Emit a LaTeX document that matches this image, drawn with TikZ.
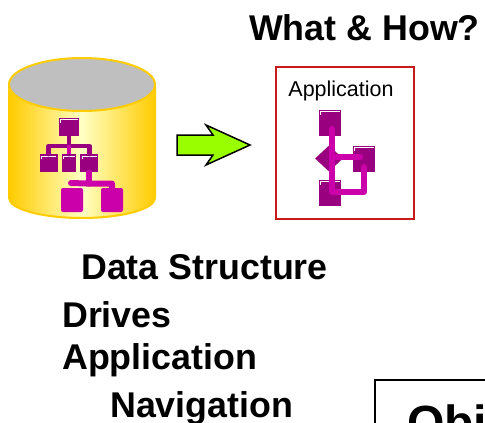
\documentclass[tikz,border=0pt]{standalone}
\usepackage{fontspec}
\setmainfont{Liberation Sans}
\usepackage{xcolor}
\usetikzlibrary{shapes.geometric, positioning}
\definecolor{plum}{HTML}{990080}
\definecolor{magent}{HTML}{CC00AA}
\definecolor{cylgold}{HTML}{FFCC00}
\definecolor{cylpale}{HTML}{FFFFC4}
\definecolor{framered}{HTML}{C81A1A}
\definecolor{arrowgreen}{HTML}{99FF00}
\newcommand{\headfont}[1]{\fontsize{#1}{#1}\selectfont\bfseries}

\begin{document}
\begin{tikzpicture}[
        x=1pt, y=-1pt,
        lit/.style={path picture={\draw[white, line width=0.8pt]
            ([shift={(1.5pt,-5pt)}]path picture bounding box.north west) |- ([shift={(-1.5pt,-1.5pt)}]path picture bounding box.north east);}},
        sqbox/.style={rectangle, fill=plum, inner sep=0pt, minimum width=#1, minimum height=18pt, lit},
        appbox/.style={rectangle, fill=plum, inner sep=0pt, minimum width=22pt, minimum height=26pt, lit},
        leafbox/.style={rectangle, rounded corners=2pt, fill=magent, inner sep=0pt, minimum width=22pt, minimum height=24pt},
        bus/.style={draw=plum, line width=4.5pt, line cap=round, line join=round},
        link/.style={draw=magent, line width=6pt, line cap=round, line join=round},
        head/.style={inner sep=0pt, anchor=base west, font=\headfont{35.8}}
    ]
        \useasboundingbox (0,0) rectangle (485,423);
        \clip (0,0) rectangle (485,423);

        % cylinder
        \path[draw=cylgold, line width=2pt, left color=cylgold, right color=cylgold, middle color=cylpale]
            (9,84) -- (9,198) arc[start angle=180, end angle=360, x radius=73pt, y radius=20pt] -- (155,84) -- cycle;
        \node[ellipse, draw=cylgold, line width=2pt, fill=black!25, inner sep=0pt, minimum width=146pt, minimum height=53pt] (lid) at (82,84.5) {};

        % tree on the cylinder
        \node[sqbox=20pt] (root) at (69,127) {};
        \node[sqbox=14pt, below=18pt of root] (midchild) {};
        \node[sqbox=18pt, left=4pt of midchild] (leftchild) {};
        \node[sqbox=18pt, right=4pt of midchild] (rightchild) {};
        \node[leafbox] (leafa) at (72,200) {};
        \node[leafbox] (leafb) at (112,200) {};
        \coordinate (busa) at (71,183);

        \draw[bus] (leftchild.north) -- ++(0,-8) -| (rightchild.north);
        \draw[bus] (root.south) -- (midchild.north);
        \draw[draw=magent, line width=4.5pt] (root.south) ++(0,9) -- (midchild.north);
        \draw[link] (rightchild.south) -- ++(0,11) coordinate (busb);
        \draw[link] (busa) -- (busb) -| (leafb.north);

        % block arrow
        \draw[fill=arrowgreen, line width=1.5pt, line join=miter]
            (177,135) -- (213,135) -- (206,125) -- (250,145) -- (206,165) -- (213,155) -- (177,155) -- cycle;

        % application frame
        \node[rectangle, draw=framered, line width=1.5pt, inner sep=0pt, minimum width=138pt, minimum height=152pt] (frame) at (345,143) {};
        \node[inner sep=0pt, font=\fontsize{21.5}{21.5}\selectfont] (apptitle) at (341,91) {Application};
        \node[appbox] (appa) at (330,123) {};
        \node[appbox] (appb) at (364,159) {};
        \node[appbox] (appc) at (330,193) {};
        \node[diamond, fill=plum, inner sep=0pt, minimum width=28pt, minimum height=26pt] (appd) at (329,158.5) {};
        \coordinate (corner) at (332,192);

        \draw[link] (332,129) -- (corner) -| (appb.south |- 0,167);
        \draw[link] (332,157) -- (360,157);

        % headings
        \node[head] (question) at (249,40) {What \& How?};
        \node[head] (datastruct) at (81,279) {Data Structure};
        \node[head] (drives) at (62,327) {Drives};
        \node[head] (application) at (62,369) {Application};
        \node[head] (navigation) at (110,417) {Navigation};

        % object box, cut by the page
        \node[rectangle, draw=black, line width=1.5pt, anchor=north west, inner sep=0pt, minimum width=160pt, minimum height=80pt] (objbox) at (374,379) {};
        \node[inner sep=0pt, anchor=base west, font=\headfont{48}] (objtext) at (407,439) {Obj};
    \end{tikzpicture}
\end{document}
